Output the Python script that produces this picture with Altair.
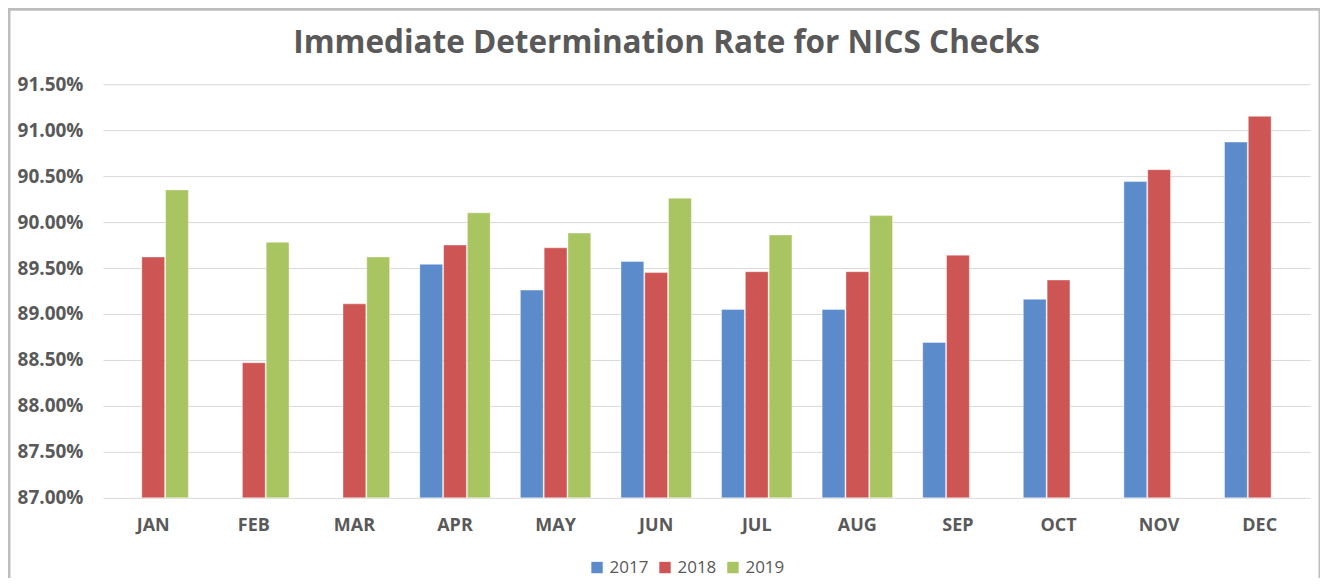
import altair as alt
import pandas as pd

months = ["JAN", "FEB", "MAR", "APR", "MAY", "JUN", "JUL", "AUG", "SEP", "OCT", "NOV", "DEC"]
years = ["2017", "2018", "2019"]
rate_2017 = [None, None, None, 0.8954, 0.8926, 0.8957, 0.8905, 0.8905, 0.8869, 0.8916, 0.9044, 0.9087]
rate_2018 = [0.8962, 0.8847, 0.8911, 0.8975, 0.8972, 0.8945, 0.8946, 0.8946, 0.8964, 0.8937, 0.9057, 0.9115]
rate_2019 = [0.9035, 0.8978, 0.8962, 0.9010, 0.8988, 0.9026, 0.8986, 0.9007, None, None, None, None]
y_ticks = [0.87, 0.875, 0.88, 0.885, 0.89, 0.895, 0.90, 0.905, 0.91, 0.915]
colors = ["#5B8BCB", "#CD5654", "#A8C562"]
title_text = "Immediate Determination Rate for NICS Checks"

rows = []
for yr, series in zip(years, [rate_2017, rate_2018, rate_2019]):
    for m, v in zip(months, series):
        if v is not None:
            rows.append({"Month": m, "Year": yr, "Rate": v})
df = pd.DataFrame(rows)

W, H = 1208, 414

bars = alt.Chart(df).mark_bar(stroke="white", strokeOpacity=0.5, strokeWidth=0.8).encode(
    x=alt.X("Month:N", sort=months, title=None,
            scale=alt.Scale(paddingInner=0.3, paddingOuter=0.15),
            axis=alt.Axis(labelAngle=0, labelFont="Open Sans", labelFontWeight="bold",
                          labelFontSize=18, labelColor="#595959", labelPadding=19,
                          ticks=False, domain=False, grid=False)),
    xOffset=alt.XOffset("Year:N", sort=years, scale=alt.Scale(paddingInner=0.04)),
    y=alt.Y("Rate:Q", title=None,
            scale=alt.Scale(domain=[0.87, 0.915], zero=False, nice=False),
            axis=alt.Axis(values=y_ticks, format=".2%", labelFont="Open Sans",
                          labelFontWeight="bold", labelFontSize=19, labelColor="#595959",
                          labelPadding=20, ticks=False, domain=False,
                          gridColor="#D9D9D9", gridWidth=1)),
    y2=alt.datum(0.87),
    color=alt.Color("Year:N", sort=years, scale=alt.Scale(domain=years, range=colors),
                    legend=alt.Legend(title=None, orient="none", direction="horizontal",
                                      legendX=486, legendY=475, symbolType="square",
                                      symbolSize=130, symbolStrokeWidth=0,
                                      labelFont="Open Sans", labelFontSize=17,
                                      labelColor="#595959", columnPadding=8,
                                      symbolOpacity=1)),
)

title = alt.Chart(pd.DataFrame({"t": [title_text]})).mark_text(
    font="Open Sans", fontSize=31.5, fontWeight="bold", color="#595959",
    align="center", baseline="alphabetic"
).encode(text="t:N", x=alt.value(564), y=alt.value(-31))

frame = alt.Chart(pd.DataFrame({"k": [0]})).mark_rect(
    fill=None, stroke="#BDBDBD", strokeWidth=3, clip=False
).encode(x=alt.value(-94), x2=alt.value(W + 10), y=alt.value(-75), y2=alt.value(H + 120))

chart = alt.layer(frame, bars, title).properties(
    width=W, height=H,
    autosize=alt.AutoSizeParams(type="none"),
    padding={"left": 95, "top": 76, "right": 10, "bottom": 80},
).configure(background="white").configure_view(stroke=None)

chart.save("out.html", embed_options={"renderer": "svg", "actions": False})
